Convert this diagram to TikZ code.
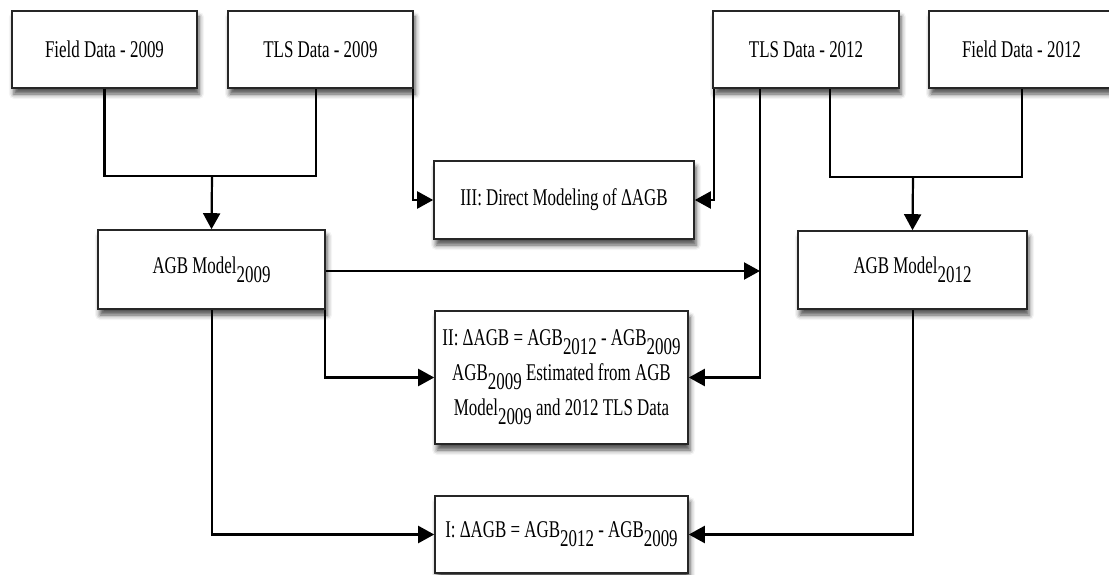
\documentclass[tikz,border=0pt]{standalone}
\usepackage{fontspec}
\setmainfont{Liberation Serif}[FakeStretch=0.705]
\usetikzlibrary{arrows.meta,shadows.blur}
\newcommand\sbx[1]{\raisebox{-9pt}{#1}}
\tikzset{
  boxnode/.style={draw=black!85, line width=1.6pt, fill=white, inner sep=0pt, align=center,
    font=\fontsize{24}{35}\selectfont,
    blur shadow={shadow xshift=2pt, shadow yshift=-6pt, shadow blur radius=5pt, shadow opacity=70}},
  conn/.style={line width=2.2pt, black},
  arr/.style={conn, -{Triangle[length=16pt,width=17pt]}}
}
\begin{document}
\begin{tikzpicture}[x=1pt,y=-1pt]
\useasboundingbox (0,0) rectangle (1109,575);
% top data boxes
\node[boxnode, minimum width=185pt, minimum height=77pt] (f09) at (104.5,49.5) {Field Data - 2009};
\node[boxnode, minimum width=185pt, minimum height=77pt] (t09) at (320.5,49.5) {TLS Data - 2009};
\node[boxnode, minimum width=186pt, minimum height=77pt] (t12) at (806,49.5) {TLS Data - 2012};
\node[boxnode, minimum width=185pt, minimum height=77pt] (f12) at (1021.5,49.5) {Field Data - 2012};
% models
\node[boxnode, minimum width=227pt, minimum height=79pt] (a09) at (211.5,269.5) {AGB Model\sbx{2009}};
\node[boxnode, minimum width=229pt, minimum height=78pt] (a12) at (912.5,270) {AGB Model\sbx{2012}};
% results
\node[boxnode, minimum width=260pt, minimum height=78pt] (m3) at (564,200) {III: Direct Modeling of ΔAGB};
\node[boxnode, minimum width=253pt, minimum height=133pt] (m2) at (561.5,377.5)
  {II: ΔAGB = AGB\sbx{2012} - AGB\sbx{2009}\\ AGB\sbx{2009} Estimated from AGB\\ Model\sbx{2009} and 2012 TLS Data};
\node[boxnode, minimum width=253pt, minimum height=77pt] (m1) at (561.5,534.5) {I: ΔAGB = AGB\sbx{2012} - AGB\sbx{2009}};
% junction coordinates
\coordinate (x316) at (316,0);
\coordinate (x413) at (413,0);
\coordinate (x714) at (714,0);
\coordinate (x760) at (760,0);
\coordinate (x830) at (830,0);
\coordinate (x1022) at (1022,0);
\coordinate (x325) at (325,0);
\coordinate (j09) at (212,176);
\coordinate (j12) at (913,177);
\coordinate (hit) at (760,271);
% 2009 merge
\draw[conn] (f09.south) |- (j09) -| (t09.south -| x316);
\draw[arr] (j09) -- (a09.north);
% 2012 merge
\draw[conn] (t12.south -| x830) |- (j12) -| (f12.south -| x1022);
\draw[arr] (j12) -- (a12.north);
% to III
\draw[arr] (t09.south -| x413) |- (m3.west);
\draw[arr] (t12.south -| x714) |- (m3.east);
% to II
\draw[arr] (t12.south -| x760) |- (m2.east);
\draw[arr] (a09.south -| x325) |- (m2.west);
% model 2009 to TLS 2012 line
\draw[arr] (a09.east |- hit) -- (hit);
% to I
\draw[arr] (a09.south -| j09) |- (m1.west);
\draw[arr] (a12.south -| j12) |- (m1.east);
\end{tikzpicture}
\end{document}
